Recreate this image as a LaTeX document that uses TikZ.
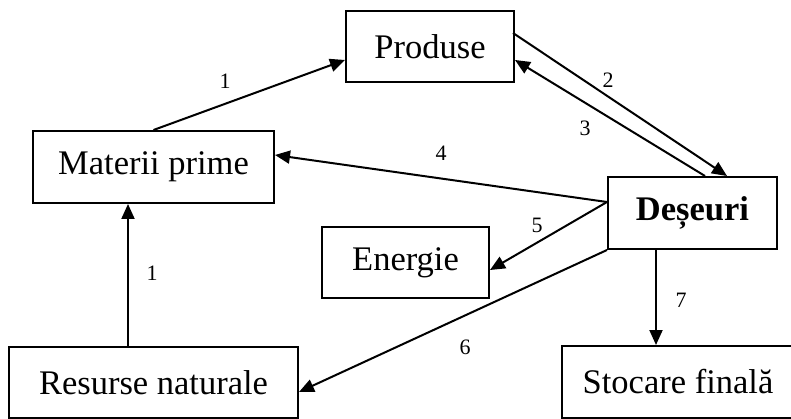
\documentclass[tikz,border=0pt]{standalone}
\usepackage{fontspec}
\setmainfont{Liberation Serif}
\usetikzlibrary{arrows.meta}

\begin{document}
\begin{tikzpicture}[
        x=1pt, y=-1pt,
        line width=2pt,
        box/.style={
            draw,
            rectangle,
            inner sep=0pt,
            font=\fontsize{34.5}{40}\selectfont
        },
        flow/.style={
            -{Triangle[length=15pt,width=13pt]}
        },
        flow_label/.style={
            font=\fontsize{22}{26}\selectfont,
            inner sep=1pt
        }
    ]
        \useasboundingbox (0,0) rectangle (791,419);

        \node[box, minimum width=168pt, minimum height=71pt] (prod) at (430,46.5) {Produse};
        \node[box, minimum width=241pt, minimum height=72pt] (mp) at (153.5,167) {Materii prime};
        \node[box, minimum width=169pt, minimum height=72pt, font=\fontsize{34.5}{40}\selectfont\bfseries] (des) at (692.5,213) {Deșeuri};
        \node[box, minimum width=167pt, minimum height=71pt] (en) at (405.5,262.5) {Energie};
        \node[box, minimum width=289pt, minimum height=71pt] (res) at (153.5,382.5) {Resurse naturale};
        \node[box, minimum width=232pt, minimum height=72pt] (sto) at (678,382) {Stocare finală};

        \draw[flow] (mp.north) -- ([yshift=-13.5pt]prod.west);
        \draw[flow] ([xshift=-2pt,yshift=13.5pt]prod.east) -- ([xshift=34.5pt]des.north);
        \draw[flow] ([xshift=12.5pt]des.north) -- ([yshift=-13.5pt]prod.east);
        \draw[flow] ([yshift=11pt]des.west) -- ([yshift=12pt]mp.east);
        \draw[flow] ([yshift=11pt]des.west) -- ([yshift=-7.5pt]en.east);
        \draw[flow] (des.south west) -- ([yshift=-9.5pt]res.east);
        \draw[flow] ([xshift=-36.5pt]des.south) -- ([xshift=-22pt]sto.north);
        \draw[flow] ([xshift=-25.5pt]res.north) -- ([xshift=-25.5pt]mp.south);

        \node[flow_label] (l1a) at (225,81) {1};
        \node[flow_label] (l2) at (608,80) {2};
        \node[flow_label] (l3) at (585,128) {3};
        \node[flow_label] (l4) at (441,153) {4};
        \node[flow_label] (l5) at (537,225) {5};
        \node[flow_label] (l6) at (465,347) {6};
        \node[flow_label] (l7) at (681,300) {7};
        \node[flow_label] (l1b) at (152,273) {1};

    \end{tikzpicture}
\end{document}
